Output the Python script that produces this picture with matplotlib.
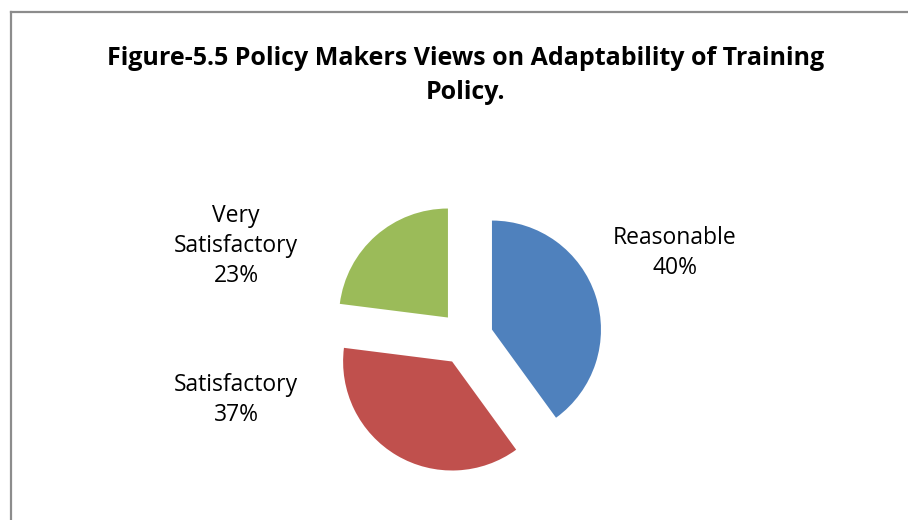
import matplotlib.pyplot as plt
from matplotlib.lines import Line2D

# data
labels = ['Reasonable', 'Satisfactory', 'Very\nSatisfactory']
shares = [40, 37, 23]
colors = ['#4f81bd', '#c0504d', '#9bbb59']
title = 'Figure-5.5 Policy Makers Views on Adaptability of Training\nPolicy.'

W, H = 908, 520
fig = plt.figure(figsize=(W / 100, H / 100), dpi=100)
ax = fig.add_axes([0, 0, 1, 1])

# pie in pixel-based coordinates (y up); explode is in data units here
ax.pie(shares, colors=colors, startangle=90, counterclock=False,
       center=(466, H - 338), radius=109, explode=[27.3] * 3,
       wedgeprops={'linewidth': 0}, frame=True)
ax.set_xlim(0, W)
ax.set_ylim(0, H)
ax.axis('off')

font = 'Open Sans'
lab_pos = [(675, H - 253), (236, H - 400), (236, H - 246)]
for lab, val, (x, y) in zip(labels, shares, lab_pos):
    ax.text(x, y, f'{lab}\n{val}%', ha='center', va='center', fontsize=16.5,
            family=font, linespacing=1.32, color='#000000')

ax.text(466, H - 75.5, title, ha='center', va='center', fontsize=18,
        family=font, fontweight='bold', linespacing=1.47)

# chart border (extends past right and bottom of the image)
fig.add_artist(Line2D([11 / W, 11 / W], [0, 1 - 12 / H], transform=fig.transFigure,
                      color='#8c8c8c', lw=1.6))
fig.add_artist(Line2D([11 / W, 1], [1 - 12 / H, 1 - 12 / H], transform=fig.transFigure,
                      color='#8c8c8c', lw=1.6))

fig.savefig('out.png', dpi=100)
